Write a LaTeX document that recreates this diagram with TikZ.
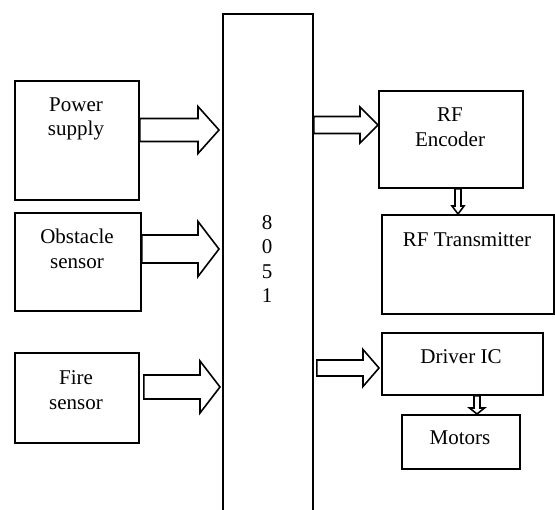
\documentclass[tikz,border=0pt]{standalone}
\usepackage{fontspec}
\setmainfont{Liberation Serif}
\usetikzlibrary{calc}
\tikzset{
  blk/.style={draw, line width=1.8pt, inner sep=0pt, anchor=north west},
  txt/.style={font=\fontsize{21}{24.5}\selectfont, align=center, inner sep=0pt},
  fatarrow/.style={draw, line width=1.6pt, fill=white, line join=miter},
}
% horizontal fat arrow: #1 start, #2 tip, #3 shaft half, #4 head half, #5 head length
\newcommand\hfat[5]{%
  \draw[fatarrow] ($(#1)+(0,-#3)$) -- ($(#2)+(-#5,-#3)$) -- ($(#2)+(-#5,-#4)$) -- (#2)
    -- ($(#2)+(-#5,#4)$) -- ($(#2)+(-#5,#3)$) -- ($(#1)+(0,#3)$) -- cycle;}
% vertical fat arrow (downwards in picture)
\newcommand\vfat[5]{%
  \draw[fatarrow] ($(#1)+(-#3,0)$) -- ($(#2)+(-#3,-#5)$) -- ($(#2)+(-#4,-#5)$) -- (#2)
    -- ($(#2)+(#4,-#5)$) -- ($(#2)+(#3,-#5)$) -- ($(#1)+(#3,0)$) -- cycle;}
\begin{document}
\begin{tikzpicture}[x=1pt,y=-1pt]
\useasboundingbox (0,0) rectangle (555,510);
% boxes
\node[blk, minimum width=90pt, minimum height=510pt] (mcu) at (222,13) {};
\node[blk, minimum width=124pt, minimum height=119pt] (ps) at (14,80) {};
\node[blk, minimum width=126pt, minimum height=98pt] (obs) at (14,212) {};
\node[blk, minimum width=124pt, minimum height=90pt] (fire) at (14,352) {};
\node[blk, minimum width=144pt, minimum height=97pt] (enc) at (378,90) {};
\node[blk, minimum width=172pt, minimum height=99pt] (tx) at (381,214) {};
\node[blk, minimum width=161pt, minimum height=62pt] (drv) at (381,332) {};
\node[blk, minimum width=118pt, minimum height=54pt] (mot) at (401,414) {};
% texts
\node[txt] (tps) at (76,119) {Power\\supply};
\node[txt] (tobs) at (77,249) {Obstacle\\sensor};
\node[txt] (tfire) at (76,390) {Fire\\sensor};
\node[txt] (tmcu) at (267,259) {8\\0\\5\\1};
\node[txt] (tenc) at (450,127) {RF\\Encoder};
\node[txt] (ttx) at (467,240) {RF Transmitter};
\node[txt] (tdrv) at (461,357) {Driver IC};
\node[txt] (tmot) at (460,438) {Motors};
% arrow end points
\coordinate (a1s) at (ps.east |- 0,130);
\coordinate (a1e) at ($(mcu.west |- 0,130)+(-3,0)$);
\coordinate (a2s) at (obs.east |- 0,249);
\coordinate (a2e) at ($(mcu.west |- 0,249)+(-3,0)$);
\coordinate (a3s) at ($(fire.east |- 0,387)+(4,0)$);
\coordinate (a3e) at ($(mcu.west |- 0,387)+(-2,0)$);
\coordinate (a4s) at (mcu.east |- 0,125);
\coordinate (a4e) at (enc.west |- 0,125);
\coordinate (a5s) at ($(mcu.east |- 0,368)+(3,0)$);
\coordinate (a5e) at ($(drv.west |- 0,368)+(-2,0)$);
\coordinate (a6s) at (enc.south -| 458,0);
\coordinate (a6e) at (tx.north -| 458,0);
\coordinate (a7s) at (drv.south -| 477,0);
\coordinate (a7e) at (mot.north -| 477,0);
% arrows
\hfat{a1s}{a1e}{11.5}{23.5}{21}
\hfat{a2s}{a2e}{14}{27.5}{21}
\hfat{a3s}{a3e}{12}{26}{20}
\hfat{a4s}{a4e}{8.5}{18}{18}
\hfat{a5s}{a5e}{8}{18.5}{16}
\vfat{a6s}{a6e}{3}{6}{8}
\vfat{a7s}{a7e}{3}{7.5}{6}
\end{tikzpicture}
\end{document}
